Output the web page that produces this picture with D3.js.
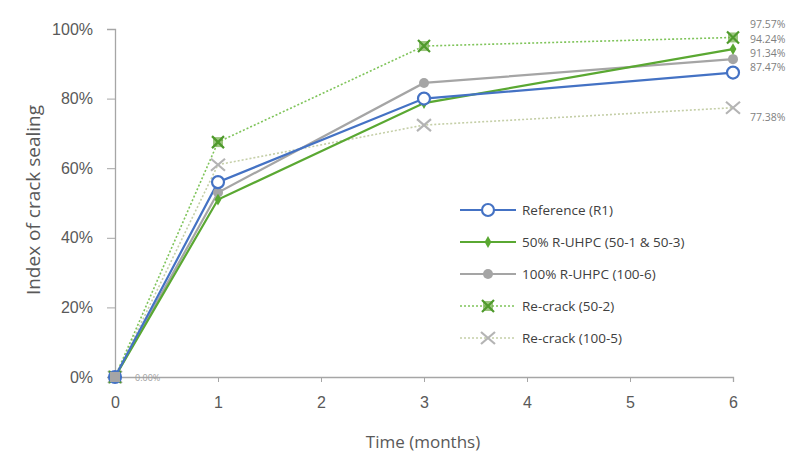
<!DOCTYPE html>
<html>
<head>
<meta charset="utf-8">
<script src="https://cdn.jsdelivr.net/npm/d3@7"></script>
<style>
  body { margin: 0; background: #fff; }
  svg { font-family: "Open Sans", Lato, sans-serif; }
</style>
</head>
<body>
<div id="chart"></div>
<script>
// months sampled
const months = [0, 1, 3, 6];
const seriesNames = ["Reference (R1)", "50% R-UHPC (50-1 & 50-3)", "100% R-UHPC (100-6)", "Re-crack (50-2)", "Re-crack (100-5)"];
const refR1 = [0, 0.56, 0.80, 0.8747];
const uhpc50 = [0, 0.51, 0.787, 0.9424];
const uhpc100 = [0, 0.53, 0.845, 0.9134];
const recrack50 = [0, 0.675, 0.951, 0.9757];
const recrack100 = [0, 0.61, 0.724, 0.7738];
const yTicks = [0, 0.2, 0.4, 0.6, 0.8, 1.0];
const xTicks = [0, 1, 2, 3, 4, 5, 6];

const W = 806, H = 456;
const svg = d3.select("#chart").append("svg").attr("width", W).attr("height", H);

const x = d3.scaleLinear().domain([0, 6]).range([115, 733]);
const y = d3.scaleLinear().domain([0, 1]).range([377, 29]);

const styles = [
  { data: refR1, color: "#4472c4", dash: null, marker: "ocircle" },
  { data: uhpc50, color: "#5aa832", dash: null, marker: "diamond" },
  { data: uhpc100, color: "#a5a5a5", dash: null, marker: "circle" },
  { data: recrack50, color: "#7fc45a", dash: "2,2", marker: "xgreen" },
  { data: recrack100, color: "#c5cfa8", dash: "2,2", marker: "xgrey" }
];

// axes
const yAxis = svg.append("g").attr("transform", "translate(115,0)")
  .call(d3.axisLeft(y).tickValues(yTicks).tickFormat(d3.format(".0%")).tickSize(8));
const xAxis = svg.append("g").attr("transform", "translate(0,377)")
  .call(d3.axisBottom(x).tickValues(xTicks).tickFormat(d3.format("d")).tickSize(5));
[yAxis, xAxis].forEach(a => {
  a.select(".domain").attr("stroke", "#a6a6a6").attr("stroke-width", 1.3);
  a.selectAll(".tick line").attr("stroke", "#a6a6a6");
  a.selectAll(".tick text").attr("fill", "#595959").style("font-size", "16px");
});
yAxis.selectAll(".tick text").attr("x", -22);
xAxis.selectAll(".tick text").attr("y", 20);

svg.append("text").attr("transform", "translate(40,200) rotate(-90)")
  .attr("text-anchor", "middle").attr("fill", "#595959").style("font-size", "19px")
  .text("Index of crack sealing");
svg.append("text").attr("x", 423).attr("y", 448)
  .attr("text-anchor", "middle").attr("fill", "#595959").style("font-size", "17px")
  .text("Time (months)");

const line = d3.line().x((d, i) => x(months[i])).y(d => y(d));

function drawMarker(g, type, color, cx, cy) {
  if (type === "ocircle") {
    g.append("circle").attr("cx", cx).attr("cy", cy).attr("r", 6)
      .attr("fill", "#fff").attr("stroke", color).attr("stroke-width", 2.2);
  } else if (type === "circle") {
    g.append("circle").attr("cx", cx).attr("cy", cy).attr("r", 5).attr("fill", color);
  } else if (type === "diamond") {
    g.append("path").attr("transform", `translate(${cx},${cy})`)
      .attr("d", d3.symbol(d3.symbolDiamond, 40)()).attr("fill", color);
  } else if (type === "xgreen") {
    g.append("rect").attr("x", cx - 5).attr("y", cy - 5).attr("width", 10).attr("height", 10)
      .attr("fill", "#70ad47").attr("opacity", 0.7);
    g.append("path").attr("transform", `translate(${cx},${cy})`)
      .attr("d", "M-6,-6L6,6M6,-6L-6,6").attr("stroke", "#4f9a2c").attr("stroke-width", 2.2);
  } else if (type === "xgrey") {
    g.append("path").attr("transform", `translate(${cx},${cy})`)
      .attr("d", "M-7,-6L7,6M7,-6L-7,6").attr("stroke", "#b4b4b4").attr("stroke-width", 2.2);
  }
}

// draw dotted series first, then solid ones
const order = [4, 3, 2, 1, 0];
order.forEach(k => {
  const s = styles[k];
  svg.append("path").datum(s.data).attr("d", line).attr("fill", "none")
    .attr("stroke", s.color).attr("stroke-width", s.dash ? 1.6 : 2.2)
    .attr("stroke-dasharray", s.dash);
});
order.forEach(k => {
  const s = styles[k];
  const g = svg.append("g");
  s.data.forEach((v, i) => drawMarker(g, s.marker, s.color, x(months[i]), y(v)));
});
// grey square at origin where all series meet
svg.append("rect").attr("x", x(0) - 5).attr("y", y(0) - 5).attr("width", 10).attr("height", 10).attr("fill", "#a5a5a5");

// data labels (the three top ones are stacked tightly, as in the picture)
const endLabels = [
  { v: recrack50[3], yy: 28 },
  { v: uhpc50[3], yy: 43 },
  { v: uhpc100[3], yy: 57 },
  { v: refR1[3], yy: 71 },
  { v: recrack100[3], yy: 121 }
];
endLabels.forEach(l => {
  svg.append("text").attr("x", 750).attr("y", l.yy)
    .attr("fill", "#7f7f7f").style("font-size", "10.5px").text(d3.format(".2%")(l.v));
});
svg.append("text").attr("x", 135).attr("y", 381).attr("fill", "#a0a0a0")
  .style("font-size", "9px").text(d3.format(".2%")(refR1[0]));

// legend
const legend = svg.append("g").attr("transform", "translate(460,210)");
styles.forEach((s, i) => {
  const row = legend.append("g").attr("transform", `translate(0,${i * 32})`);
  row.append("line").attr("x1", 0).attr("x2", 56).attr("y1", 0).attr("y2", 0)
    .attr("stroke", s.color).attr("stroke-width", s.dash ? 1.6 : 2.2).attr("stroke-dasharray", s.dash);
  drawMarker(row, s.marker, s.color, 28, 0);
  row.append("text").attr("x", 62).attr("y", 5).attr("fill", "#404040")
    .style("font-size", "13.5px").text(seriesNames[i]);
});
</script>
</body>
</html>
